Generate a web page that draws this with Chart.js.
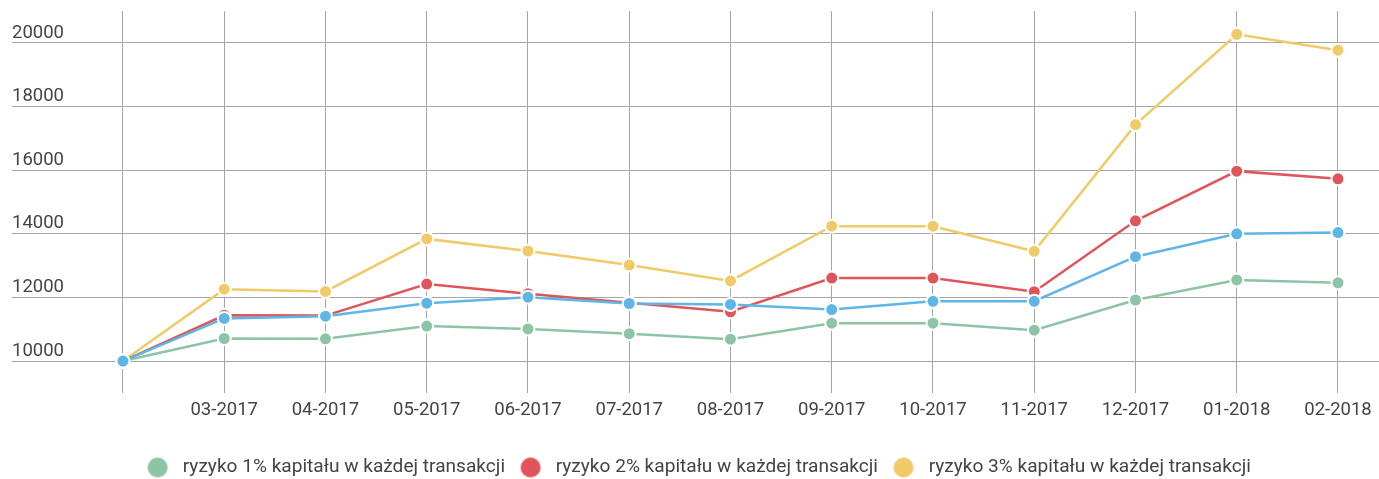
<!DOCTYPE html>
<html>
<head>
<meta charset="utf-8">
<script src="https://cdn.jsdelivr.net/npm/chart.js@4/dist/chart.umd.min.js"></script>
<style>
    html, body { margin: 0; padding: 0; background: #fff; }
    #wrap { width: 1379px; height: 479px; }
</style>
</head>
<body>
<div id="wrap"><canvas id="chart"></canvas></div>
<script>
// months on the x axis (the first one has no label in the picture)
const months = ['', '03-2017', '04-2017', '05-2017', '06-2017', '07-2017', '08-2017',
    '09-2017', '10-2017', '11-2017', '12-2017', '01-2018', '02-2018'];
const yTicks = [10000, 12000, 14000, 16000, 18000, 20000];

const risk1 = [10000, 10710, 10700, 11100, 11010, 10860, 10690, 11190, 11190, 10970, 11920, 12550, 12460];
const risk2 = [10000, 11440, 11430, 12420, 12120, 11830, 11550, 12610, 12610, 12180, 14410, 15970, 15730];
const risk3 = [10000, 12260, 12190, 13840, 13460, 13020, 12520, 14240, 14240, 13450, 17430, 20270, 19770];
const base  = [10000, 11340, 11410, 11820, 12010, 11810, 11780, 11620, 11880, 11880, 13280, 14000, 14040];

const labels = [
    'ryzyko 1% kapitału w każdej transakcji',
    'ryzyko 2% kapitału w każdej transakcji',
    'ryzyko 3% kapitału w każdej transakcji'
];
const colors = ['#8dc4a5', '#e0555a', '#f1ca68', '#5db6e6'];

function points(arr) {
    return arr.map((v, i) => ({x: i, y: v}));
}

// legend dot, pushed to the left of its image so the text sits further away
function dot(color) {
    const c = document.createElement('canvas');
    c.width = 52;
    c.height = 22;
    const ctx = c.getContext('2d');
    ctx.fillStyle = color;
    ctx.beginPath();
    ctx.arc(20, 11, 10, 0, Math.PI * 2);
    ctx.fill();
    return c;
}

function series(label, data, color, order) {
    return {
        label,
        data: points(data),
        borderColor: color,
        backgroundColor: color,
        borderWidth: 2.5,
        pointRadius: 6.5,
        pointHoverRadius: 6.5,
        pointBorderColor: '#fff',
        pointBorderWidth: 2,
        tension: 0,
        order
    };
}

const grid = '#a6a6a6';
const font = { family: 'Roboto', size: 18.5 };

// the legend in the picture sits a few px right of centre
const nudgeLegend = {
    id: 'nudgeLegend',
    afterLayout(chart) {
        chart.legend.left += 7;
        chart.legend.right += 7;
    }
};

new Chart(document.getElementById('chart'), {
    type: 'line',
    data: {
        datasets: [
            series(labels[0], risk1, colors[0], 1),
            series(labels[1], risk2, colors[1], 2),
            series(labels[2], risk3, colors[2], 3),
            series('', base, colors[3], 0)
        ]
    },
    plugins: [nudgeLegend],
    options: {
        responsive: true,
        maintainAspectRatio: false,
        animation: false,
        layout: { autoPadding: false, padding: { left: 12, right: 0, top: 0, bottom: -8 } },
        scales: {
            x: {
                type: 'linear',
                min: -1.096,
                max: 12.405,
                afterBuildTicks: s => { s.ticks = months.map((_, i) => ({value: i})); },
                afterFit: s => { s.height = 43; s.paddingLeft = 0; s.paddingRight = 0; },
                grid: { color: grid, lineWidth: 1, drawTicks: false },
                border: { display: false },
                ticks: {
                    padding: 6,
                    color: '#444',
                    font,
                    maxRotation: 0,
                    callback: v => months[v] ?? ''
                }
            },
            y: {
                min: 9000,
                max: 21000,
                afterBuildTicks: s => { s.ticks = yTicks.map(v => ({value: v})); },
                grid: { color: grid, lineWidth: 1, drawTicks: false },
                border: { display: false },
                ticks: {
                    mirror: true,
                    padding: 0,
                    labelOffset: -10,
                    color: '#444',
                    font,
                    callback: v => String(v)
                }
            }
        },
        plugins: {
            tooltip: { enabled: false },
            legend: {
                position: 'bottom',
                labels: {
                    usePointStyle: true,
                    padding: 22,
                    color: '#444',
                    font: { family: 'Roboto', size: 19.1 },
                    filter: item => item.text !== '',
                    generateLabels: chart => {
                        const items = Chart.defaults.plugins.legend.labels.generateLabels(chart);
                        items.forEach(it => { it.pointStyle = dot(it.fillStyle); });
                        return items;
                    }
                }
            }
        }
    }
});
</script>
</body>
</html>
